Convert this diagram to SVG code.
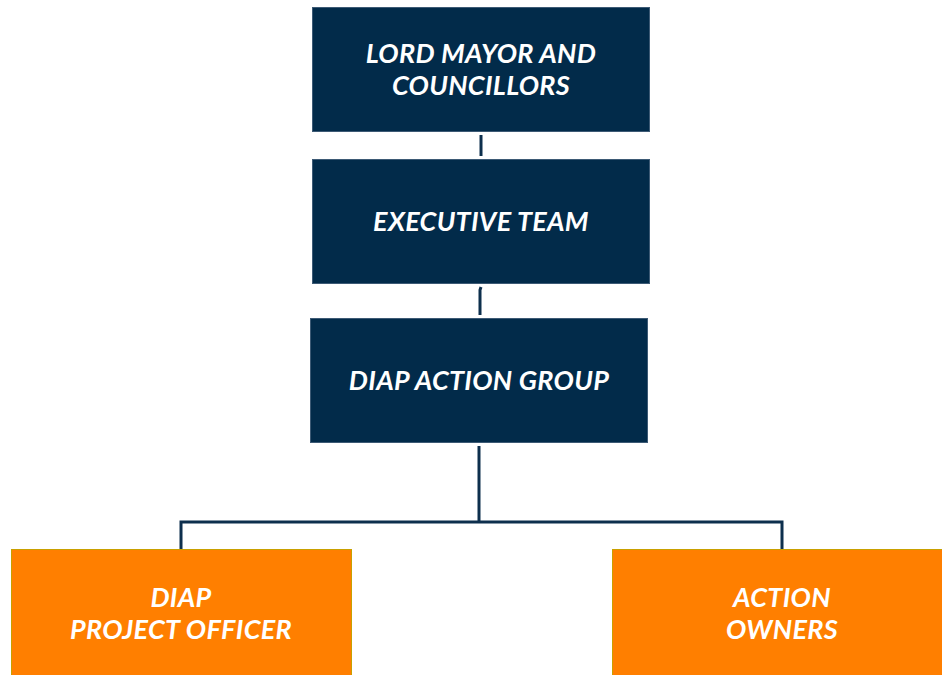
<svg xmlns="http://www.w3.org/2000/svg" width="942" height="675" viewBox="0 0 942 675">
<style>
.navy{fill:#022b4a;stroke:#3d5a75;stroke-width:1}
.orange{fill:#ff7f00;stroke:#c9a000;stroke-width:1}
.t{font-family:Lato,"Open Sans",sans-serif;font-weight:bold;font-style:italic;font-size:27px;letter-spacing:0.3px;fill:#ffffff;text-anchor:middle}
.c{stroke:#0d2f4d;stroke-width:3;fill:none}
</style>
<rect width="942" height="675" fill="#ffffff"/>
<g id="connectors">
<line class="c" x1="481" y1="135" x2="481" y2="156"/>
<path class="c" d="M480 315 L480 290 L481 287"/>
<line class="c" x1="479" y1="446" x2="479" y2="522"/>
<path class="c" d="M181 549 L181 522 L782 522 L782 549"/>
</g>
<g id="lord-mayor">
<rect class="navy" x="312.500" y="7.500" width="337" height="124"/>
<text class="t" x="481" y="63">LORD MAYOR AND</text>
<text class="t" x="481" y="95">COUNCILLORS</text>
</g>
<g id="executive-team">
<rect class="navy" x="312.500" y="159.500" width="337" height="124"/>
<text class="t" x="481" y="231">EXECUTIVE TEAM</text>
</g>
<g id="diap-action-group">
<rect class="navy" x="310.500" y="318.500" width="337" height="124"/>
<text class="t" x="479" y="390">DIAP ACTION GROUP</text>
</g>
<g id="diap-project-officer">
<rect class="orange" x="11.500" y="549.500" width="340" height="126"/>
<text class="t" x="181" y="607">DIAP</text>
<text class="t" x="181" y="639">PROJECT OFFICER</text>
</g>
<g id="action-owners">
<rect class="orange" x="612.500" y="549.500" width="330" height="126"/>
<text class="t" x="782" y="607">ACTION</text>
<text class="t" x="782" y="639">OWNERS</text>
</g>
</svg>
